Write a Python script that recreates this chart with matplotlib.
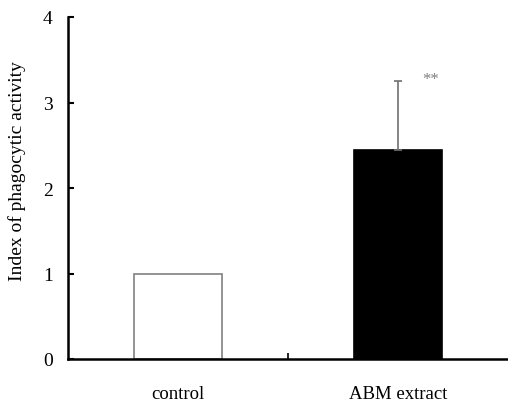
import matplotlib

matplotlib.use("Agg")
import matplotlib.pyplot as plt

groups = ["control", "ABM extract"]
means = [1.0, 2.44]
errors = [0.0, 0.81]
bar_colors = ["white", "black"]
edge_colors = ["#808080", "black"]
y_ticks = [0, 1, 2, 3, 4]

plt.rcParams["font.family"] = ["Liberation Serif", "DejaVu Serif"]

fig = plt.figure(figsize=(5.08, 4.02), dpi=100)
ax = fig.add_axes([68 / 508, 1 - 360 / 402, 1 - 68 / 508, (360 - 18) / 402])

x = range(len(groups))
ax.bar(x, means, width=0.40, color=bar_colors, edgecolor=edge_colors, linewidth=1.2)
ax.errorbar(1, means[1], yerr=[[0], [errors[1]]], fmt="none",
            ecolor="#707070", elinewidth=1.2, capsize=3, capthick=1.2)
ax.text(1.15, 3.28, "**", fontsize=12, color="#808080", ha="center", va="center")

ax.set_xlim(-0.5, 1.5)
ax.set_ylim(0, 4)
ax.set_yticks(y_ticks)
ax.set_xticks(list(x))
ax.set_xticklabels(groups, fontsize=13.5)
ax.set_xticks([0.5], minor=True)
ax.tick_params(axis="x", which="major", length=0, pad=19)
ax.tick_params(axis="x", which="minor", direction="in", length=4, width=1.2)
ax.tick_params(axis="y", direction="in", length=4, width=1.5, labelsize=14, pad=11)

for side in ("top", "right"):
    ax.spines[side].set_visible(False)
ax.spines["left"].set_linewidth(1.8)
ax.spines["bottom"].set_linewidth(1.8)

fig.text(17 / 508, 1 - 171 / 402, "Index of phagocytic activity", fontsize=14,
         rotation=90, ha="center", va="center")

fig.savefig("out.png", dpi=100)
